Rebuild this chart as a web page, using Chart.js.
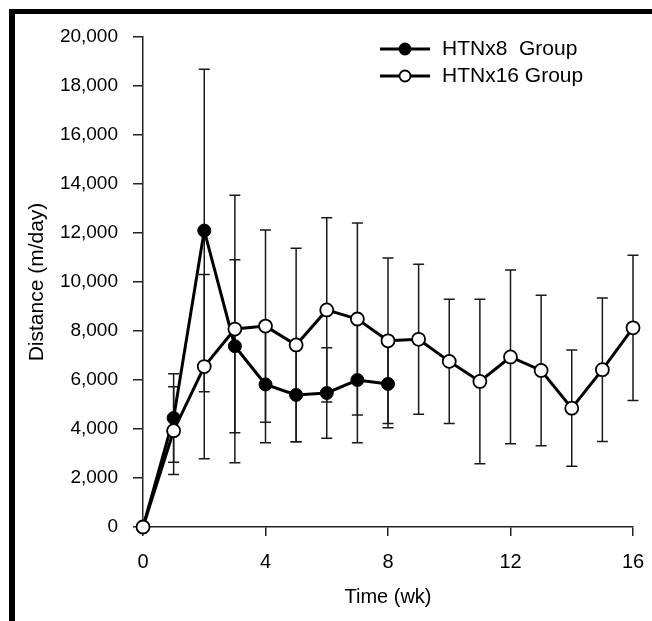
<!DOCTYPE html>
<html>
<head>
<meta charset="utf-8">
<script src="https://cdn.jsdelivr.net/npm/chart.js@4.4.1/dist/chart.umd.min.js"></script>
<style>
  body { margin: 0; background: #fff; overflow: hidden; }
  #wrap { position: absolute; left: 0; top: 0; width: 652px; height: 621px; }
  #frame { position: absolute; left: 9px; top: 9px; width: 700px; height: 700px;
           border-top: 5px solid #000; border-left: 6px solid #000; box-sizing: border-box; }
</style>
</head>
<body>
<div id="frame"></div>
<div id="wrap"><canvas id="distance_chart"></canvas></div>
<script>
// weeks for each group
var weeksHTN8 = [0, 1, 2, 3, 4, 5, 6, 7, 8];
var weeksHTN16 = [0, 1, 2, 3, 4, 5, 6, 7, 8, 9, 10, 11, 12, 13, 14, 15, 16];

// mean distance (m/day)
var meanHTN8 = [0, 4450, 12100, 7380, 5820, 5390, 5470, 6000, 5840];
var meanHTN16 = [0, 3930, 6550, 8080, 8200, 7430, 8860, 8490, 7600, 7660, 6760, 5940, 6940, 6390, 4850, 6420, 8130];

// error bar half widths (SD)
var errHTN8 = [0, 1810, 6580, 3530, 2380, 1910, 1850, 2560, 1790];
var errHTN16 = [0, 1790, 3760, 5460, 3920, 3950, 3760, 3920, 3380, 3060, 2540, 3360, 3545, 3070, 2370, 2930, 2965];

var xTicks = [0, 4, 8, 12, 16];
var yTicks = [0, 2000, 4000, 6000, 8000, 10000, 12000, 14000, 16000, 18000, 20000];

var fontFam = '"Liberation Sans", Arial, Helvetica, sans-serif';

function toPoints(xs, ys) {
    var pts = [];
    for (var i = 0; i < xs.length; i++) pts.push({x: xs[i], y: ys[i]});
    return pts;
}

// draws the vertical SD bars underneath the lines/markers
var errorBars = {
    id: 'errorBars',
    beforeDatasetsDraw: function(chart) {
        var ctx = chart.ctx;
        var xs = chart.scales.x, ys = chart.scales.y;
        ctx.save();
        ctx.strokeStyle = '#1a1a1a';
        ctx.lineWidth = 1.5;
        chart.data.datasets.forEach(function(ds) {
            for (var i = 0; i < ds.data.length; i++) {
                var e = ds.err[i];
                if (!e) continue;
                var px = xs.getPixelForValue(ds.data[i].x);
                var top = ys.getPixelForValue(ds.data[i].y + e);
                var bot = ys.getPixelForValue(ds.data[i].y - e);
                ctx.beginPath();
                ctx.moveTo(px, top); ctx.lineTo(px, bot);
                ctx.moveTo(px - 5.5, top); ctx.lineTo(px + 5.5, top);
                ctx.moveTo(px - 5.5, bot); ctx.lineTo(px + 5.5, bot);
                ctx.stroke();
            }
        });
        ctx.restore();
    }
};

// legend in the top right, line + marker + label
var legendBox = {
    id: 'legendBox',
    afterDraw: function(chart) {
        var ctx = chart.ctx;
        var rows = [chart.data.datasets[1], chart.data.datasets[0]];
        ctx.save();
        rows.forEach(function(ds, i) {
            var y = 49 + i * 27;
            ctx.strokeStyle = '#000';
            ctx.lineWidth = 3;
            ctx.beginPath(); ctx.moveTo(380, y); ctx.lineTo(430, y); ctx.stroke();
            ctx.beginPath(); ctx.arc(405, y, 5.5, 0, Math.PI * 2);
            ctx.fillStyle = ds.pointBackgroundColor;
            ctx.fill();
            ctx.lineWidth = 1.8;
            ctx.stroke();
            ctx.fillStyle = '#000';
            ctx.font = '21px ' + fontFam;
            ctx.textBaseline = 'middle';
            ctx.fillText(ds.label, 442, y);
        });
        ctx.restore();
    }
};

var ctxDist = document.getElementById('distance_chart').getContext('2d');

var distance_chart = new Chart(ctxDist, {
    type: 'line',
    data: {
        datasets: [{
            label: 'HTNx16 Group',
            data: toPoints(weeksHTN16, meanHTN16),
            err: errHTN16,
            borderColor: '#000',
            borderWidth: 3,
            pointRadius: 6.5,
            pointBorderWidth: 1.8,
            pointBackgroundColor: '#fff',
            pointBorderColor: '#000',
            clip: false,
            order: 0
        }, {
            label: 'HTNx8  Group',
            data: toPoints(weeksHTN8, meanHTN8),
            err: errHTN8,
            borderColor: '#000',
            borderWidth: 3,
            pointRadius: 6.5,
            pointBorderWidth: 1,
            pointBackgroundColor: '#000',
            pointBorderColor: '#000',
            clip: false,
            order: 1
        }]
    },
    options: {
        responsive: true,
        maintainAspectRatio: false,
        animation: false,
        layout: { padding: { left: 0, right: 19, top: 37, bottom: 0 } },
        plugins: { legend: { display: false }, tooltip: { enabled: false } },
        scales: {
            x: {
                type: 'linear',
                min: 0, max: 16,
                afterBuildTicks: function(s) { s.ticks = xTicks.map(function(v) { return {value: v}; }); },
                afterFit: function(s) { s.height = 94; s.paddingLeft = 0; s.paddingRight = 0; },
                grid: { display: true, drawOnChartArea: false, drawTicks: true, tickLength: 9, color: '#222', lineWidth: 1.5 },
                border: { display: true, color: '#222', width: 1.5 },
                ticks: { color: '#000', padding: 14, maxRotation: 0, font: { family: fontFam, size: 20 } },
                title: { display: true, text: 'Time (wk)', color: '#000', padding: { top: 0, bottom: 12 }, font: { family: fontFam, size: 20 } }
            },
            y: {
                min: 0, max: 20000,
                afterBuildTicks: function(s) { s.ticks = yTicks.map(function(v) { return {value: v}; }); },
                afterFit: function(s) { s.width = 143; },
                grid: { display: true, drawOnChartArea: false, drawTicks: true, tickLength: 10, color: '#222', lineWidth: 1.5 },
                border: { display: true, color: '#222', width: 1.5 },
                ticks: {
                    color: '#000', padding: 15, font: { family: fontFam, size: 19 },
                    callback: function(v) { return v.toLocaleString('en-US'); }
                },
                title: { display: true, text: 'Distance (m/day)', color: '#000', padding: { top: 25, bottom: 0 }, font: { family: fontFam, size: 21 } }
            }
        }
    },
    plugins: [errorBars, legendBox]
});
</script>
</body>
</html>
